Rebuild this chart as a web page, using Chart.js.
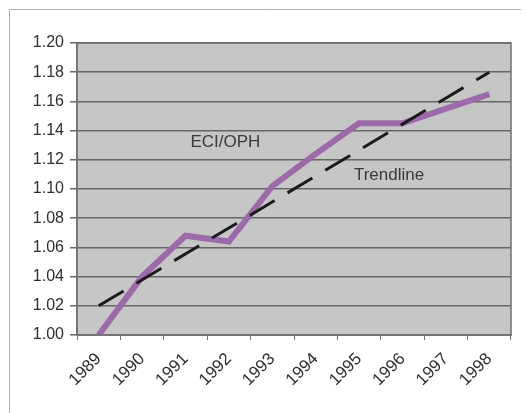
<!DOCTYPE html>
<html>
<head>
<meta charset="utf-8">
<script src="https://cdn.jsdelivr.net/npm/chart.js@4.4.1/dist/chart.umd.min.js"></script>
<style>
  html, body { margin: 0; padding: 0; background: #fff; }
  #wrap { width: 526px; height: 413px; position: relative; }
</style>
</head>
<body>
<div id="wrap"><canvas id="chart" width="526" height="413"></canvas></div>
<script>
const years = ['1989', '1990', '1991', '1992', '1993', '1994', '1995', '1996', '1997', '1998'];
const eciOph = [1.000, 1.040, 1.068, 1.064, 1.102, 1.124, 1.145, 1.145, 1.155, 1.165];
// trendline read at its two ends only, the line spans the gap
const trend = [1.020, null, null, null, null, null, null, null, null, 1.180];
const yTicks = [1.00, 1.02, 1.04, 1.06, 1.08, 1.10, 1.12, 1.14, 1.16, 1.18, 1.20];

const notes = [
  { text: 'ECI/OPH', x: 2.92, y: 1.132 },
  { text: 'Trendline', x: 6.69, y: 1.1096 }
];

const frame = {
  id: 'frame',
  beforeDraw(chart) {
    const { ctx, chartArea: a } = chart;
    ctx.save();
    // outer chart border, only the left and top edges show
    ctx.strokeStyle = '#b0b0b0';
    ctx.lineWidth = 1;
    ctx.beginPath();
    ctx.moveTo(9.5, 413);
    ctx.lineTo(9.5, 9.5);
    ctx.lineTo(521, 9.5);
    ctx.stroke();
    // plot background
    ctx.fillStyle = '#c6c6c6';
    ctx.fillRect(a.left, a.top, a.right - a.left, a.bottom - a.top);
    ctx.restore();
  },
  afterDatasetsDraw(chart) {
    const { ctx, chartArea: a, scales } = chart;
    ctx.save();
    ctx.strokeStyle = '#707070';
    ctx.lineWidth = 1.5;
    ctx.strokeRect(a.left, a.top, a.right - a.left, a.bottom - a.top);
    ctx.fillStyle = '#3a3a3a';
    ctx.font = '17px "Liberation Sans", Arial, sans-serif';
    ctx.textAlign = 'center';
    ctx.textBaseline = 'middle';
    notes.forEach(n => {
      ctx.fillText(n.text, scales.x.getPixelForValue(n.x), scales.y.getPixelForValue(n.y));
    });
    ctx.restore();
  }
};

new Chart(document.getElementById('chart').getContext('2d'), {
  type: 'line',
  data: {
    labels: years,
    datasets: [
      {
        label: 'ECI/OPH',
        data: eciOph,
        borderColor: '#9c6aa8',
        borderWidth: 6,
        pointRadius: 0,
        tension: 0,
        fill: false,
        order: 2
      },
      {
        label: 'Trendline',
        data: trend,
        borderColor: '#1a1a1a',
        borderWidth: 3,
        borderDash: [29, 15],
        pointRadius: 0,
        spanGaps: true,
        fill: false,
        order: 1
      }
    ]
  },
  options: {
    responsive: false,
    animation: false,
    layout: { padding: { top: 43, right: 15, left: 0, bottom: 0 } },
    scales: {
      x: {
        offset: true,
        grid: { display: true, drawOnChartArea: false, offset: true, color: '#707070', tickLength: 5 },
        border: { display: true, color: '#707070', width: 1.5 },
        ticks: {
          maxRotation: 45,
          minRotation: 45,
          padding: 9,
          color: '#2e2e2e',
          font: { family: '"Liberation Sans", Arial, sans-serif', size: 17 }
        },
        afterFit(s) { s.height = 78; }
      },
      y: {
        min: 1.00,
        max: 1.20,
        afterBuildTicks(s) { s.ticks = yTicks.map(v => ({ value: v })); },
        grid: { color: '#676767', lineWidth: 1.5, tickLength: 7 },
        border: { display: true, color: '#707070', width: 1.5 },
        ticks: {
          padding: 6,
          color: '#2e2e2e',
          font: { family: '"Liberation Sans", Arial, sans-serif', size: 16 },
          callback: v => v.toFixed(2)
        },
        afterFit(s) { s.width = 77; }
      }
    },
    plugins: {
      legend: { display: false },
      tooltip: { enabled: false }
    }
  },
  plugins: [frame]
});
</script>
</body>
</html>
